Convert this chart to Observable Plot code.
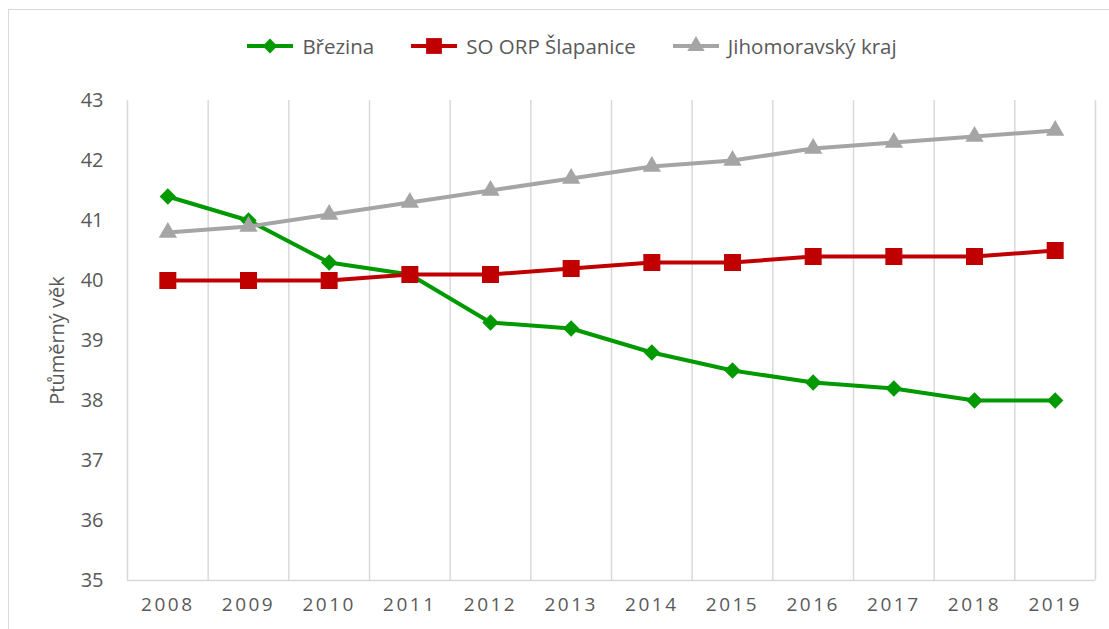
<!DOCTYPE html>
<html>
<head>
<meta charset="utf-8">
<script src="https://cdn.jsdelivr.net/npm/d3@7"></script>
<script src="https://cdn.jsdelivr.net/npm/@observablehq/plot@0.6"></script>
<style>
  html, body { margin: 0; padding: 0; background: #fff; }
  #wrap { position: relative; width: 1109px; height: 629px; overflow: hidden; font-family: "Open Sans", sans-serif; }
  #frame { position: absolute; left: 8px; top: 9px; width: 1200px; height: 700px; border-left: 1px solid #d9d9d9; border-top: 1px solid #d9d9d9; }
  #legend { position: absolute; top: 32px; left: 0; width: 1143px; display: flex; justify-content: center; gap: 36px; color: #595959; font-size: 20.5px; }
  #legend .item { display: flex; align-items: center; gap: 8px; }
  #chart { position: absolute; left: 0; top: 0; }
  #chart svg [aria-label="x-axis tick label"] text { letter-spacing: 2.5px; }
</style>
</head>
<body>
<div id="wrap">
  <div id="frame"></div>
  <div id="chart"></div>
  <div id="legend"></div>
</div>
<script>
const years = [2008, 2009, 2010, 2011, 2012, 2013, 2014, 2015, 2016, 2017, 2018, 2019];
const brezina = [41.4, 41.0, 40.3, 40.1, 39.3, 39.2, 38.8, 38.5, 38.3, 38.2, 38.0, 38.0];
const orp = [40.0, 40.0, 40.0, 40.1, 40.1, 40.2, 40.3, 40.3, 40.4, 40.4, 40.4, 40.5];
const jmk = [40.8, 40.9, 41.1, 41.3, 41.5, 41.7, 41.9, 42.0, 42.2, 42.3, 42.4, 42.5];
const seriesNames = ["Březina", "SO ORP Šlapanice", "Jihomoravský kraj"];
const yTicks = [35, 36, 37, 38, 39, 40, 41, 42, 43];
const yLabel = "Ptůměrný věk";

const colors = ["#009900", "#c00000", "#a5a5a5"];
const symbols = ["diamond2", "square", "triangle"];
const radii = [7.4, 9.6, 6.8];
const seriesValues = [brezina, orp, jmk];

const rows = (vals) => years.map((y, i) => ({year: y, value: vals[i]}));
const boundaries = years.map(y => y - 0.5).concat([years[years.length - 1] + 0.5]);

const marks = [
  Plot.ruleX(boundaries, {stroke: "#d9d9d9", strokeWidth: 1.5}),
  Plot.ruleY([yTicks[0]], {stroke: "#d9d9d9", strokeWidth: 1.5}),
  Plot.axisY({ticks: yTicks, tickSize: 0, tickPadding: 24, fontSize: 20, color: "#595959", label: null, tickFormat: d => String(d)}),
  Plot.axisX({ticks: years, tickSize: 0, tickPadding: 17, fontSize: 19, color: "#595959", label: null, tickFormat: d => String(d)}),
  Plot.text([yLabel], {frameAnchor: "left", textAnchor: "middle", dx: -70, rotate: -90, fontSize: 20, fill: "#595959"})
];
seriesValues.forEach((vals, k) => {
  marks.push(Plot.line(rows(vals), {x: "year", y: "value", stroke: colors[k], strokeWidth: 4}));
  marks.push(Plot.dot(rows(vals), {x: "year", y: "value", symbol: symbols[k], r: radii[k], fill: colors[k], stroke: "none"}));
});

const chart = Plot.plot({
  width: 1109,
  height: 629,
  marginLeft: 127,
  marginRight: 14,
  marginTop: 100,
  marginBottom: 49,
  style: {fontFamily: "Open Sans, sans-serif", background: "transparent", color: "#595959"},
  x: {type: "linear", domain: [years[0] - 0.5, years[years.length - 1] + 0.5]},
  y: {domain: [yTicks[0], yTicks[yTicks.length - 1]]},
  marks
});
document.getElementById("chart").appendChild(chart);

// Legend
const legend = document.getElementById("legend");
const symbolPaths = {
  "diamond2": d3.symbol(d3.symbolDiamond2, 140)(),
  "square": d3.symbol(d3.symbolSquare, 250)(),
  "triangle": d3.symbol(d3.symbolTriangle, 130)()
};
seriesNames.forEach((name, k) => {
  const item = document.createElement("div");
  item.className = "item";
  item.innerHTML = `<svg width="48" height="20" viewBox="0 0 48 20"><line x1="1" y1="10" x2="47" y2="10" stroke="${colors[k]}" stroke-width="4"/><path transform="translate(24,10)" d="${symbolPaths[symbols[k]]}" fill="${colors[k]}"/></svg><span>${name}</span>`;
  legend.appendChild(item);
});
</script>
</body>
</html>
